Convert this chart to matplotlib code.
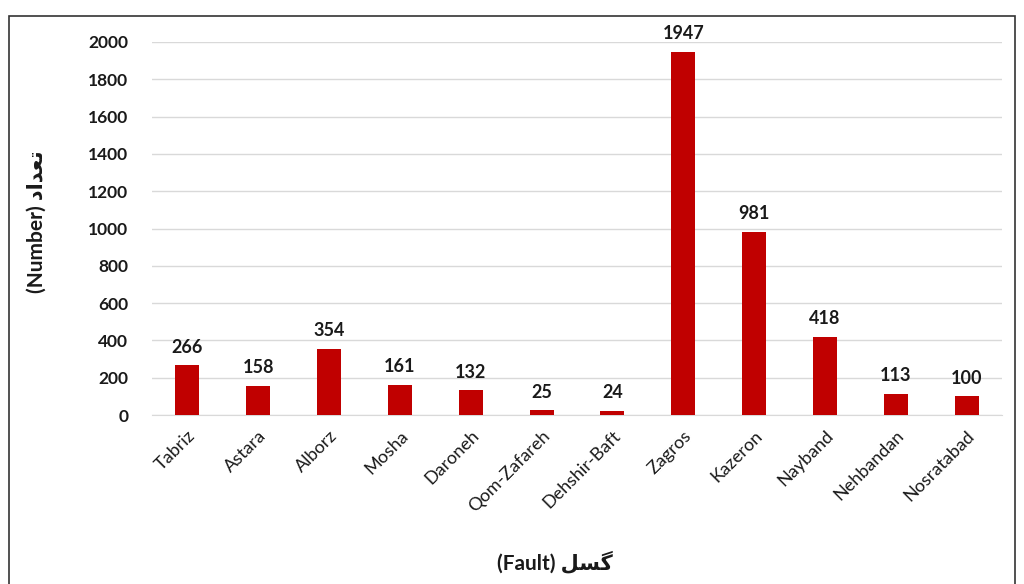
import matplotlib.pyplot as plt
from matplotlib.patches import Rectangle

faults = ["Tabriz", "Astara", "Alborz", "Mosha", "Daroneh", "Qom-Zafareh",
          "Dehshir-Baft", "Zagros", "Kazeron", "Nayband", "Nehbandan", "Nosratabad"]
counts = [266, 158, 354, 161, 132, 25, 24, 1947, 981, 418, 113, 100]
yticks = [0, 200, 400, 600, 800, 1000, 1200, 1400, 1600, 1800, 2000]

# Persian words pre-shaped in visual order (matplotlib has no RTL shaping)
fault_fa = "\uFEDE\uFEB4\uFB94"             # گسل
number_fa = "\uFEA9\uFE8D\uFEAA\uFECC\uFE97"  # تعداد

fam = ["Lato", "DejaVu Sans"]
red = "#C00000"
ink = "#1a1a1a"

fig = plt.figure(figsize=(10.24, 5.84), dpi=100)
ax = fig.add_axes([152 / 1024, 1 - 415 / 584, 850 / 1024, 373 / 584])

x = list(range(len(faults)))
ax.bar(x, counts, width=0.34, color=red, zorder=3)
for xi, c in zip(x, counts):
    ax.annotate(str(c), (xi, c), xytext=(0, 7), textcoords="offset points",
                ha="center", va="bottom", fontsize=13, fontweight="bold",
                family=fam, color=ink)

ax.set_xlim(-0.5, len(faults) - 0.5)
ax.set_ylim(0, 2000)
ax.set_yticks(yticks)
ax.set_yticklabels([str(t) for t in yticks], fontsize=12.5, fontweight="bold",
                   family=fam, color=ink)
ax.set_xticks(x)
ax.set_xticklabels(faults, rotation=45, ha="right", rotation_mode="anchor",
                   fontsize=13, family=fam, color=ink)
ax.tick_params(axis="both", length=0)
ax.tick_params(axis="y", pad=17)
ax.tick_params(axis="x", pad=9)
ax.grid(axis="y", color="#d9d9d9", linewidth=1, zorder=0)
for s in ["top", "right", "left"]:
    ax.spines[s].set_visible(False)
ax.spines["bottom"].set_color("#d9d9d9")

fig.text(555 / 1024, 1 - 562 / 584, "(Fault) " + fault_fa, ha="center", va="center",
         fontsize=15, fontweight="bold", family=fam, color=ink)
fig.text(37 / 1024, 1 - 222 / 584, "(Number) " + number_fa, ha="center", va="center",
         rotation=90, fontsize=15, fontweight="bold", family=fam, color=ink)

fig.patches.append(Rectangle((9 / 1024, -0.05), 1006 / 1024, 1 - 16 / 584 + 0.05,
                             transform=fig.transFigure, fill=False,
                             edgecolor="#333333", linewidth=1.2))

fig.savefig("out.png", dpi=100)
